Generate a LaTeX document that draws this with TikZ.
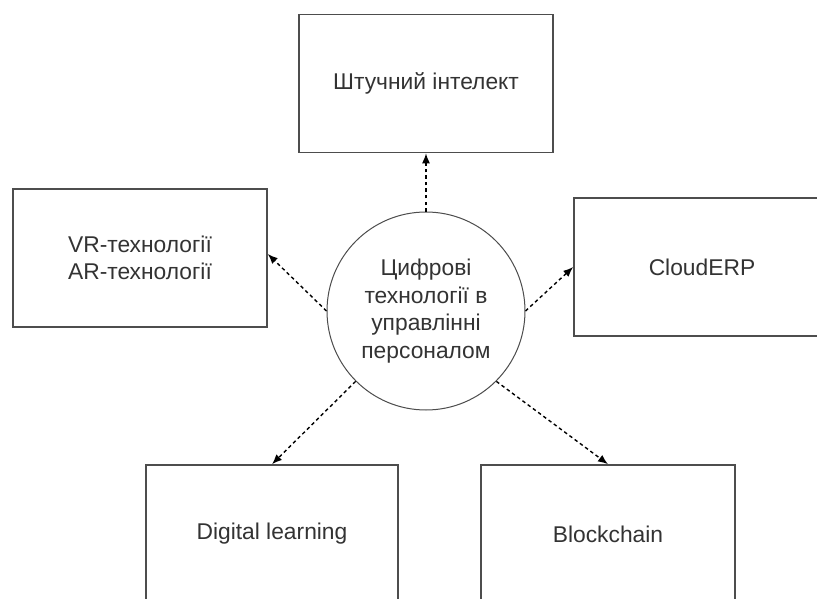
\documentclass[tikz,border=0pt]{standalone}
\usepackage{fontspec}
\setmainfont{Liberation Sans}
\usepackage{tikz}
\usetikzlibrary{arrows.meta}
\definecolor{edgegray}{HTML}{4D4D4D}
\definecolor{textgray}{HTML}{333333}
\tikzset{
    tech-box/.style = {draw=edgegray, fill=white, line width=1.6pt, rectangle, minimum width=254pt, minimum height=138pt, align=center, text=textgray, font=\fontsize{22.8}{27.5}\selectfont},
    hub-circle/.style = {draw=edgegray, fill=white, line width=1pt, circle, minimum size=198pt, inner sep=0pt, align=center, text=textgray, font=\fontsize{22.8}{27.5}\selectfont},
    dashed-link/.style = {draw=black, line width=1.4pt, dash pattern=on 3.5pt off 3pt, -{Latex[length=10pt,width=8pt]}},
}

\begin{document}
\begin{tikzpicture}[x=1pt, y=-1pt]
\clip (0,0) rectangle (817,599);
\node [hub-circle] (hub) at (426,311) {Цифрові\\технології в\\управлінні\\персоналом};
\node [tech-box] (ai) at (426,83.5) {Штучний інтелект};
\node [tech-box] (vrar) at (140,258) {VR-технології\\AR-технології};
\node [tech-box, minimum width=256pt] (erp) at (702,267) {CloudERP};
\node [tech-box, minimum width=252pt] (dlearn) at (272,534) {Digital learning};
\node [tech-box] (chain) at (608,534) {Blockchain};
\draw [dashed-link] (hub.north) -- (ai.south);
\draw [dashed-link] (hub.west) -- ([yshift=4pt]vrar.east);
\draw [dashed-link] (hub.east) -- (erp.west);
\draw [dashed-link] (hub.225) -- (dlearn.north);
\draw [dashed-link] (hub.-45) -- (chain.north);
\end{tikzpicture}
\end{document}
